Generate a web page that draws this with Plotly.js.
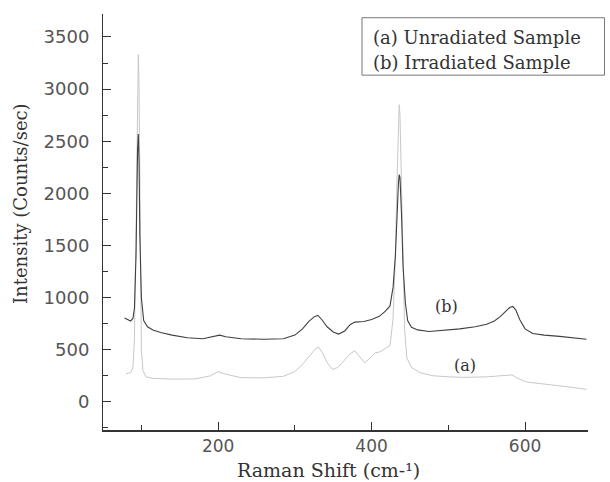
<!DOCTYPE html>
<html><head><meta charset="utf-8">
<script src="https://cdn.plot.ly/plotly-3.0.1.min.js"></script>
<style>html,body{margin:0;padding:0;background:#fff}#chart{width:610px;height:482px}</style>
</head><body><div id="chart"></div>
<script>
// Irradiated sample (b)
const shiftB = [78,82,86,89,91,93,94,95,96,97,98,100,103,108,115,125,140,160,180,195,202,210,230,260,285,300,310,318,325,330,335,342,350,357,365,372,378,390,400,410,418,424,428,431,433,435,436,437,439,441,444,447,452,460,475,495,515,535,550,560,568,575,580,584,588,593,600,610,625,645,665,680];
const intensityB = [805,790,775,800,900,1400,2000,2400,2570,2300,1600,1000,780,720,690,665,640,615,605,625,640,625,605,600,605,640,700,770,815,830,790,720,670,650,680,740,765,770,790,820,870,920,1100,1400,1800,2100,2180,2150,1800,1300,950,780,715,690,675,685,700,720,745,775,820,870,905,915,880,790,700,655,640,628,615,600];
// Unradiated sample (a)
const shiftA = [80,86,89,91,92,93,94,95,96,97,98,99,100,102,106,115,140,170,190,200,210,230,260,285,300,310,320,327,331,336,342,349,356,365,372,378,384,391,398,405,411,418,424,428,431,433,435,436,437,439,441,443,446,452,463,480,500,520,550,570,583,592,602,620,640,660,680];
const intensityA = [270,280,330,600,1200,1500,2200,3000,3330,3000,2000,1000,500,300,240,225,218,220,250,290,265,232,230,245,290,360,450,510,525,470,380,310,330,400,460,490,440,375,420,470,480,510,540,800,1400,2100,2650,2850,2750,2000,1200,700,420,330,280,250,240,235,240,250,258,220,190,175,160,140,120];
const legendLines = ["(a) Unradiated Sample", "(b) Irradiated Sample"];
const curveLabels = ["(a)", "(b)"];
const xTitle = "Raman Shift (cm-¹)";
const yTitle = "Intensity (Counts/sec)";
const xTickVals = [200, 400, 600];
const yTickVals = [0, 500, 1000, 1500, 2000, 2500, 3000, 3500];

const serif = "DejaVu Serif";
const yRange = [-270, 3720];
const traces = [
  {x: shiftA, y: intensityA, mode: "lines", line: {color: "#c8c8c8", width: 1}, name: "a"},
  {x: shiftB, y: intensityB, mode: "lines", line: {color: "#404040", width: 1.1}, name: "b"},
  // invisible trace to activate label axis
  {x: [shiftB[0]], y: [intensityB[0]], yaxis: "y2", mode: "markers", marker: {opacity: 0}, hoverinfo: "skip"}
];
const layout = {
  width: 610, height: 482,
  margin: {l: 103, r: 22, t: 14, b: 52},
  paper_bgcolor: "#fff", plot_bgcolor: "#fff",
  showlegend: false,
  xaxis: {
    range: [50, 682], showgrid: false, zeroline: false,
    showline: true, linecolor: "#333", linewidth: 1.5,
    ticks: "inside", ticklen: 8, tickcolor: "#333", tickwidth: 1,
    tickvals: xTickVals, ticktext: xTickVals.map(String),
    minor: {dtick: 100, tick0: 0, ticks: "inside", ticklen: 5, tickcolor: "#333"},
    tickfont: {family: "DejaVu Sans", size: 17, color: "#555"}
  },
  yaxis: {
    range: yRange, showgrid: false, zeroline: false,
    showline: true, linecolor: "#333", linewidth: 1.5,
    ticks: "inside", ticklen: 8, tickcolor: "#333", tickwidth: 1,
    tickvals: yTickVals, showticklabels: false,
    minor: {dtick: 250, tick0: 0, ticks: "inside", ticklen: 5, tickcolor: "#333"}
  },
  yaxis2: {
    overlaying: "y", side: "left", anchor: "x", range: yRange,
    showgrid: false, zeroline: false, showline: false,
    ticks: "outside", ticklen: 9, tickcolor: "rgba(0,0,0,0)",
    tickvals: yTickVals, ticktext: yTickVals.map(String),
    tickfont: {family: "DejaVu Sans", size: 18, color: "#555"}
  },
  shapes: [
    {type: "rect", xref: "paper", yref: "paper", x0: 0.534, x1: 1.034, y0: 0.853, y1: 0.991,
     line: {color: "#777", width: 1}, fillcolor: "rgba(0,0,0,0)"}
  ],
  annotations: [
    {xref: "paper", yref: "paper", x: 0.552, y: 0.944, xanchor: "left", yanchor: "middle", showarrow: false,
     text: legendLines[0], font: {family: serif, size: 18, color: "#333"}},
    {xref: "paper", yref: "paper", x: 0.552, y: 0.884, xanchor: "left", yanchor: "middle", showarrow: false,
     text: legendLines[1], font: {family: serif, size: 18, color: "#333"}},
    {x: 522, y: 350, xref: "x", yref: "y", showarrow: false, text: curveLabels[0],
     font: {family: serif, size: 16, color: "#333"}},
    {x: 498, y: 916, xref: "x", yref: "y", showarrow: false, text: curveLabels[1],
     font: {family: serif, size: 16, color: "#333"}},
    {xref: "paper", yref: "paper", x: (328 - 103) / 485, y: -(470 - 430) / 416, xanchor: "center", yanchor: "middle",
     showarrow: false, text: xTitle, font: {family: serif, size: 19, color: "#333"}},
    {xref: "paper", yref: "paper", x: (20 - 103) / 485, y: (430 - 204) / 416, xanchor: "center", yanchor: "middle",
     showarrow: false, textangle: -90, text: yTitle, font: {family: serif, size: 18, color: "#333"}}
  ]
};
Plotly.newPlot("chart", traces, layout, {displayModeBar: false, staticPlot: true});
</script>
</body></html>
